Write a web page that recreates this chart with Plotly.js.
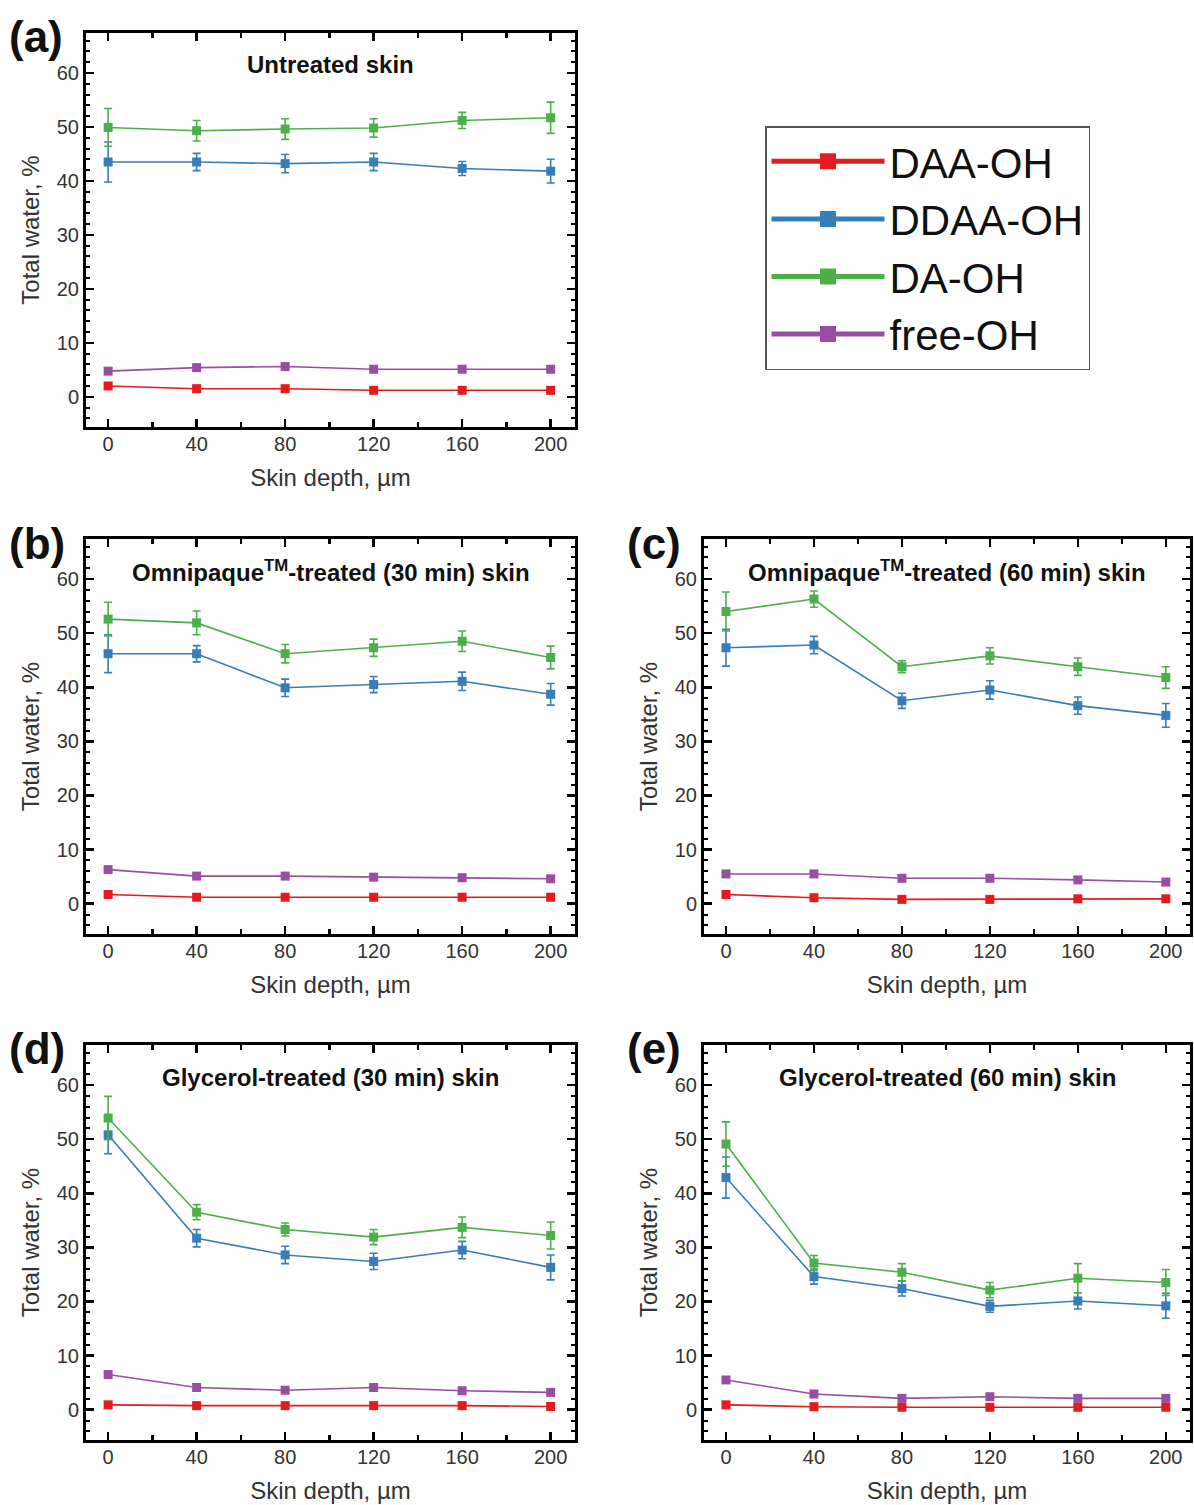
<!DOCTYPE html>
<html><head><meta charset="utf-8">
<script src="https://cdn.plot.ly/plotly-3.0.1.min.js"></script>
<style>body{margin:0;background:#fff}</style>
</head><body>
<div id="chart" style="width:1194px;height:1505px"></div>
<script>
// ---- data ----
const depth = [0, 40, 80, 120, 160, 200];
const seriesNames = ['DAA-OH', 'DDAA-OH', 'DA-OH', 'free-OH'];
const seriesColors = ['#E41A1C', '#377EB8', '#4DAF4A', '#984EA3'];
const panelLabels = ['(a)', '(b)', '(c)', '(d)', '(e)'];
const panelTitles = [
  'Untreated skin',
  'Omnipaque<sup>TM</sup>-treated (30 min) skin',
  'Omnipaque<sup>TM</sup>-treated (60 min) skin',
  'Glycerol-treated (30 min) skin',
  'Glycerol-treated (60 min) skin'
];
const xTitle = 'Skin depth, µm';
const yTitle = 'Total water, %';

// (a) Untreated skin
const a_DAA = [2.0, 1.5, 1.5, 1.2, 1.2, 1.2];
const a_DDAA = [43.5, 43.5, 43.2, 43.5, 42.3, 41.8];
const a_DDAA_err = [3.7, 1.6, 1.7, 1.6, 1.3, 2.2];
const a_DA = [49.9, 49.3, 49.6, 49.8, 51.2, 51.7];
const a_DA_err = [3.5, 1.9, 1.9, 1.7, 1.5, 2.9];
const a_free = [4.75, 5.4, 5.6, 5.1, 5.1, 5.1];

// (b) Omnipaque 30 min
const b_DAA = [1.7, 1.2, 1.2, 1.2, 1.2, 1.2];
const b_DDAA = [46.2, 46.2, 39.9, 40.5, 41.1, 38.7];
const b_DDAA_err = [3.5, 1.5, 1.6, 1.5, 1.7, 2.0];
const b_DA = [52.6, 51.9, 46.2, 47.3, 48.5, 45.5];
const b_DA_err = [3.1, 2.2, 1.7, 1.6, 1.9, 2.1];
const b_free = [6.3, 5.1, 5.1, 4.9, 4.8, 4.6];

// (c) Omnipaque 60 min
const c_DAA = [1.7, 1.1, 0.8, 0.8, 0.9, 0.9];
const c_DDAA = [47.3, 47.8, 37.5, 39.5, 36.6, 34.8];
const c_DDAA_err = [3.4, 1.6, 1.4, 1.7, 1.6, 2.2];
const c_DA = [54.0, 56.3, 43.8, 45.8, 43.8, 41.8];
const c_DA_err = [3.6, 1.5, 1.1, 1.5, 1.6, 2.0];
const c_free = [5.5, 5.5, 4.7, 4.7, 4.4, 4.0];

// (d) Glycerol 30 min
const d_DAA = [0.9, 0.75, 0.75, 0.75, 0.75, 0.6];
const d_DDAA = [50.8, 31.7, 28.6, 27.4, 29.5, 26.3];
const d_DDAA_err = [3.5, 1.6, 1.6, 1.5, 1.6, 2.3];
const d_DA = [53.9, 36.5, 33.3, 31.9, 33.7, 32.2];
const d_DA_err = [4.0, 1.4, 1.2, 1.4, 1.9, 2.5];
const d_free = [6.5, 4.1, 3.6, 4.1, 3.5, 3.2];

// (e) Glycerol 60 min
const e_DAA = [0.9, 0.55, 0.45, 0.45, 0.45, 0.45];
const e_DDAA = [42.9, 24.6, 22.4, 19.1, 20.1, 19.2];
const e_DDAA_err = [3.8, 1.4, 1.4, 1.1, 1.5, 2.3];
const e_DA = [49.1, 27.1, 25.4, 22.1, 24.3, 23.5];
const e_DA_err = [4.1, 1.4, 1.6, 1.4, 2.7, 2.4];
const e_free = [5.5, 2.9, 2.1, 2.4, 2.1, 2.1];

const panelSeries = [
  [[a_DAA, null], [a_DDAA, a_DDAA_err], [a_DA, a_DA_err], [a_free, null]],
  [[b_DAA, null], [b_DDAA, b_DDAA_err], [b_DA, b_DA_err], [b_free, null]],
  [[c_DAA, null], [c_DDAA, c_DDAA_err], [c_DA, c_DA_err], [c_free, null]],
  [[d_DAA, null], [d_DDAA, d_DDAA_err], [d_DA, d_DA_err], [d_free, null]],
  [[e_DAA, null], [e_DDAA, e_DDAA_err], [e_DA, e_DA_err], [e_free, null]]
];

// ---- layout geometry (pixel boxes of plot frames) ----
const W = 1194, H = 1505;
const boxes = [
  {l: 86, r: 575, t: 33, b: 427},
  {l: 86, r: 575, t: 539, b: 934},
  {l: 704, r: 1190, t: 539, b: 934},
  {l: 86, r: 575, t: 1045, b: 1440},
  {l: 704, r: 1190, t: 1045, b: 1440}
];
const labelPos = [[7, 36], [7, 543], [625, 543], [7, 1048], [625, 1048]];
const FONT = 'Liberation Sans, Arial, sans-serif';

const traces = [];
const layout = {
  width: W, height: H,
  margin: {l: 0, r: 0, t: 0, b: 0},
  paper_bgcolor: '#fff', plot_bgcolor: '#fff',
  showlegend: true,
  font: {family: FONT, color: '#222'},
  annotations: [],
  legend: {
    x: 765 / W, y: 1 - 126 / H, xanchor: 'left', yanchor: 'top',
    bordercolor: '#555', borderwidth: 1.5, bgcolor: '#fff',
    font: {size: 42, family: FONT, color: '#111'},
    itemwidth: 113, tracegroupgap: 0
  }
};

boxes.forEach((bx, i) => {
  const n = i === 0 ? '' : String(i + 1);
  const xa = 'xaxis' + n, ya = 'yaxis' + n;
  const common = {
    showline: true, linewidth: 3, linecolor: '#000', mirror: 'ticks',
    ticks: 'inside', ticklen: 8, tickwidth: 2.5, tickcolor: '#000',
    showgrid: false, zeroline: false, fixedrange: true,
    tickfont: {size: 20, family: FONT, color: '#333'},
  };
  layout[xa] = Object.assign({}, common, {
    domain: [bx.l / W, bx.r / W], anchor: 'y' + n,
    range: [-10, 211], tickmode: 'linear', tick0: 0, dtick: 40,
    ticklabelstandoff: -3,
    minor: {ticks: 'inside', ticklen: 5, tickwidth: 2.5, tickcolor: '#000', tick0: 0, dtick: 20},
    title: {text: xTitle, font: {size: 24, family: FONT, color: '#333'}, standoff: 16}
  });
  layout[ya] = Object.assign({}, common, {
    domain: [1 - bx.b / H, 1 - bx.t / H], anchor: 'x' + n,
    range: [-5.6, 67.4], tickmode: 'linear', tick0: 0, dtick: 10,
    minor: {ticks: 'inside', ticklen: 4, tickwidth: 2, tickcolor: '#000', tick0: 0, dtick: 2},
    title: {text: yTitle, font: {size: 24, family: FONT, color: '#333'}, standoff: 11}
  });

  panelSeries[i].forEach((s, k) => {
    const t = {
      type: 'scatter', mode: 'lines+markers',
      x: depth, y: s[0], name: seriesNames[k],
      xaxis: 'x' + n, yaxis: 'y' + n,
      line: {color: seriesColors[k], width: 1.6},
      marker: {symbol: 'square', size: 9, color: seriesColors[k]},
      showlegend: false, legendgroup: seriesNames[k]
    };
    if (s[1]) t.error_y = {type: 'data', array: s[1], visible: true, color: seriesColors[k], thickness: 1.6, width: 4};
    traces.push(t);
  });

  layout.annotations.push({
    xref: 'paper', yref: 'paper', x: labelPos[i][0] / W, y: 1 - labelPos[i][1] / H,
    xanchor: 'left', yanchor: 'middle', showarrow: false,
    text: '<b>' + panelLabels[i] + '</b>', font: {size: 44, family: FONT, color: '#111'}
  });
  layout.annotations.push({
    xref: 'x' + n + ' domain', yref: 'y' + n + ' domain', x: 0.5, y: 1 - 32 / (bx.b - bx.t),
    xanchor: 'center', yanchor: 'middle', showarrow: false,
    text: '<b>' + panelTitles[i] + '</b>', font: {size: 24, family: FONT, color: '#111'}
  });
});

// legend entries (one per series, styled like the legend in the figure)
seriesNames.forEach((nm, k) => {
  traces.push({
    type: 'scatter', mode: 'lines+markers', x: [null], y: [null],
    xaxis: 'x', yaxis: 'y', name: nm, legendgroup: nm, showlegend: true,
    line: {color: seriesColors[k], width: 5},
    marker: {symbol: 'square', size: 16, color: seriesColors[k]},
    hoverinfo: 'skip'
  });
});

Plotly.newPlot('chart', traces, layout, {staticPlot: true});
</script>
</body></html>
